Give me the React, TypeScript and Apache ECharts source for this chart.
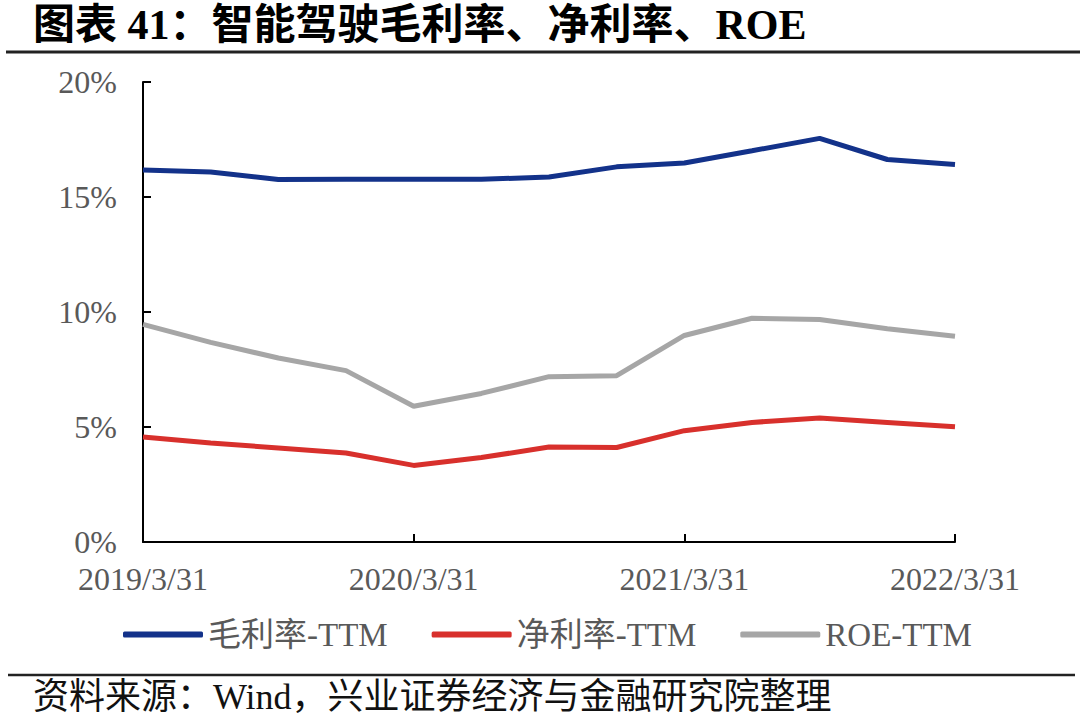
import React, { useEffect, useRef } from "react";
import * as echarts from "echarts";

const categories = [
  "2019/3/31", "2019/6/30", "2019/9/30", "2019/12/31",
  "2020/3/31", "2020/6/30", "2020/9/30", "2020/12/31",
  "2021/3/31", "2021/6/30", "2021/9/30", "2021/12/31",
  "2022/3/31",
];

const grossMargin = [16.17, 16.09, 15.76, 15.77, 15.77, 15.77, 15.87, 16.31, 16.48, 17.01, 17.55, 16.63, 16.41];
const netMargin = [4.57, 4.30, 4.09, 3.87, 3.33, 3.67, 4.13, 4.11, 4.84, 5.2, 5.39, 5.2, 5.01];
const roe = [9.46, 8.68, 8.0, 7.45, 5.9, 6.46, 7.19, 7.23, 8.98, 9.73, 9.67, 9.27, 8.95];

const seriesNames = ["毛利率-TTM", "净利率-TTM", "ROE-TTM"];
const seriesColors = ["#13328a", "#d8302c", "#a6a6a6"];
const yTicks = { min: 0, max: 20, interval: 5 };

const titleText = "图表 41：智能驾驶毛利率、净利率、ROE";
const sourceText = "资料来源：Wind，兴业证券经济与金融研究院整理";

const SERIF = "'Liberation Serif', 'Times New Roman', 'Noto Sans CJK SC', serif";

export default function App() {
  const ref = useRef<HTMLDivElement>(null);

  useEffect(() => {
    if (!ref.current) return;
    const chart = echarts.init(ref.current, undefined, { renderer: "svg" });
    const values = [grossMargin, netMargin, roe];
    chart.setOption({
      animation: false,
      backgroundColor: "#ffffff",
      grid: { left: 143, right: 125, top: 82, bottom: 184, containLabel: false },
      xAxis: {
        type: "category",
        data: categories,
        boundaryGap: false,
        axisLine: { lineStyle: { color: "#000", width: 2 } },
        axisTick: { inside: true, length: 8, interval: 3, lineStyle: { color: "#000", width: 2 } },
        axisLabel: {
          interval: 3,
          margin: 21,
          color: "#595959",
          fontSize: 32,
          fontFamily: SERIF,
        },
        splitLine: { show: false },
      },
      yAxis: {
        type: "value",
        min: yTicks.min,
        max: yTicks.max,
        interval: yTicks.interval,
        axisLine: { show: true, lineStyle: { color: "#000", width: 2 } },
        axisTick: { show: true, inside: true, length: 8, lineStyle: { color: "#000", width: 2 } },
        axisLabel: {
          formatter: "{value}%",
          margin: 26,
          color: "#595959",
          fontSize: 32,
          fontFamily: SERIF,
        },
        splitLine: { show: false },
      },
      legend: {
        left: 118,
        top: 613,
        icon: "roundRect",
        itemWidth: 80,
        itemHeight: 6,
        itemGap: 44,
        textStyle: { color: "#595959", fontSize: 33, fontFamily: SERIF },
        data: seriesNames,
      },
      series: seriesNames.map((name, i) => ({
        name,
        type: "line",
        data: values[i],
        symbol: "none",
        color: seriesColors[i],
        lineStyle: { color: seriesColors[i], width: 5 },
      })),
      graphic: [
        {
          type: "text",
          left: 33,
          top: 4,
          style: {
            text: titleText,
            fill: "#000",
            font: `bold 42px ${SERIF}`,
          },
        },
        {
          type: "line",
          shape: { x1: 6, y1: 52, x2: 1080, y2: 52 },
          style: { stroke: "#222", lineWidth: 3 },
        },
        {
          type: "line",
          shape: { x1: 8, y1: 675, x2: 1075, y2: 675 },
          style: { stroke: "#222", lineWidth: 2.5 },
        },
        {
          type: "text",
          left: 33,
          top: 679,
          style: {
            text: sourceText,
            fill: "#111",
            font: `36px ${SERIF}`,
          },
        },
      ],
    });
    return () => chart.dispose();
  }, []);

  return (
    <div
      ref={ref}
      style={{ width: 1080, height: 726, position: "absolute", left: 0, top: 0 }}
    />
  );
}
